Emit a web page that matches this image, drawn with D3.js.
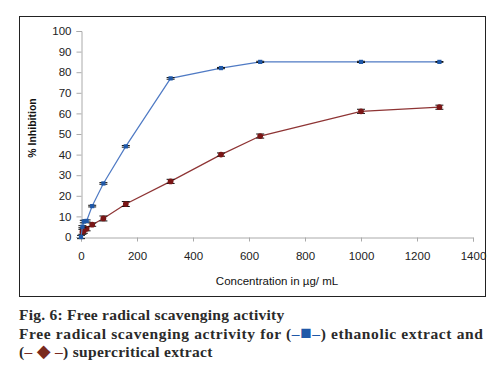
<!DOCTYPE html>
<html>
<head>
<meta charset="utf-8">
<script src="https://d3js.org/d3.v7.min.js"></script>
<style>
  body { margin: 0; background: #fff; }
  svg { display: block; }
</style>
</head>
<body>
<svg width="500" height="369"></svg>
<script>
// concentration (µg/mL) and % inhibition
var conc        = [0, 5, 10, 20, 40, 80, 160, 320, 500, 640, 1000, 1280];
var ethanolic   = [0, 5, 7.5, 7.8, 15, 26, 44, 77, 82, 85, 85, 85];
var ethanolErr  = [0.8, 0.5, 0.6, 0.5, 0.4, 0.4, 0.4, 0.4, 0.3, 0.3, 0.3, 0.2];
var concSc      = [5, 10, 20, 40, 80, 160, 320, 500, 640, 1000, 1280];
var supercrit   = [2.5, 3, 4, 6, 9, 16, 27, 40, 49, 61, 63];
var superErr    = [1.2, 1.2, 1.0, 0.8, 1.2, 1.2, 1.0, 0.8, 1.0, 1.0, 1.0];
var xTicks = [0, 200, 400, 600, 800, 1000, 1200, 1400];
var yTicks = [0, 10, 20, 30, 40, 50, 60, 70, 80, 90, 100];

var svg = d3.select("svg");

// outer frame
svg.append("rect").attr("x", 19.5).attr("y", 16.5).attr("width", 466).attr("height", 280)
  .attr("fill", "none").attr("stroke", "#222").attr("stroke-width", 1);

var x = d3.scaleLinear().domain([0, 1400]).range([81, 473]);
var y = d3.scaleLinear().domain([0, 100]).range([237, 31]);

var axisColor = "#aaa";
var sans = "Liberation Sans, Arial, sans-serif";

// y axis
var gy = svg.append("g").attr("transform", "translate(81.5,0)")
  .call(d3.axisLeft(y).tickValues(yTicks).tickSize(5).tickPadding(5));
// x axis
var gx = svg.append("g").attr("transform", "translate(0,237.5)")
  .call(d3.axisBottom(x).tickValues(xTicks).tickSize(4).tickPadding(10).tickFormat(d3.format("d")));

[gx, gy].forEach(function(g) {
  g.select(".domain").attr("stroke", axisColor);
  g.selectAll(".tick line").attr("stroke", axisColor);
  g.selectAll("text").attr("fill", "#222").style("font-family", sans).style("font-size", "11.5px");
});

// axis titles
svg.append("text").attr("x", 277).attr("y", 285).attr("text-anchor", "middle")
  .style("font-family", sans).style("font-size", "11.5px").attr("fill", "#111")
  .text("Concentration in µg/ mL");
svg.append("text").attr("transform", "translate(36,128) rotate(-90)").attr("text-anchor", "middle")
  .style("font-family", sans).style("font-size", "10.5px").style("font-weight", "bold").attr("fill", "#111")
  .text("% Inhibition");

var blue = "#4f7ac4", blueMark = "#1f58a8";
var red = "#8e3434", redMark = "#7a1616";

function series(xs, ys, errs, lineColor, markColor, shape) {
  var pts = xs.map(function(v, i) { return {x: v, y: ys[i], e: errs[i]}; });
  var line = d3.line().x(function(d) { return x(d.x); }).y(function(d) { return y(d.y); });
  svg.append("path").datum(pts).attr("d", line)
    .attr("fill", "none").attr("stroke", lineColor).attr("stroke-width", 1.2);

  var g = svg.append("g");
  // error bars
  g.selectAll(".eb").data(pts).enter().append("path")
    .attr("d", function(d) {
      var cx = x(d.x), y1 = y(d.y + d.e), y2 = y(d.y - d.e);
      return "M" + (cx - 4) + "," + y1 + "H" + (cx + 4) +
             "M" + cx + "," + y1 + "V" + y2 +
             "M" + (cx - 4) + "," + y2 + "H" + (cx + 4);
    })
    .attr("fill", "none").attr("stroke", "#111").attr("stroke-width", 1);

  var sym = d3.symbol().type(shape).size(shape === d3.symbolSquare ? 18 : 26);
  g.selectAll(".m").data(pts).enter().append("path")
    .attr("transform", function(d) { return "translate(" + x(d.x) + "," + y(d.y) + ")"; })
    .attr("d", sym).attr("fill", markColor);
}

series(concSc, supercrit, superErr, red, redMark, d3.symbolCircle);
series(conc, ethanolic, ethanolErr, blue, blueMark, d3.symbolSquare);

// caption
var serif = "Liberation Serif, DejaVu Serif, serif";
var cap = svg.append("g").style("font-family", serif).style("font-weight", "bold").style("font-size", "15.5px").attr("fill", "#2a2a2a");

var l1 = cap.append("text").attr("x", 19).attr("y", 320).style("letter-spacing", "0.25px")
  .text("Fig. 6: Free radical scavenging activity");

var l2 = cap.append("text").attr("x", 19).attr("y", 339).style("letter-spacing", "0.62px");
l2.append("tspan").text("Free radical scavenging actrivity for (");
l2.append("tspan").attr("fill", "#1f58a8").style("font-weight", "900").text("\u2013");
l2.append("tspan").attr("fill", "#1f58a8").style("font-size", "19px").text("\u25A0");
l2.append("tspan").attr("fill", "#1f58a8").style("font-weight", "900").text("\u2013");
l2.append("tspan").text(") ethanolic extract and");

var l3 = cap.append("text").attr("x", 19).attr("y", 357).style("letter-spacing", "0.3px");
l3.append("tspan").text("(");
l3.append("tspan").attr("fill", "#7a2a1e").text("\u2013 ");
l3.append("tspan").attr("fill", "#7a2a1e").style("font-size", "18px").text("\u25C6");
l3.append("tspan").attr("fill", "#7a2a1e").text(" \u2013");
l3.append("tspan").text(") supercritical extract");
</script>
</body>
</html>
